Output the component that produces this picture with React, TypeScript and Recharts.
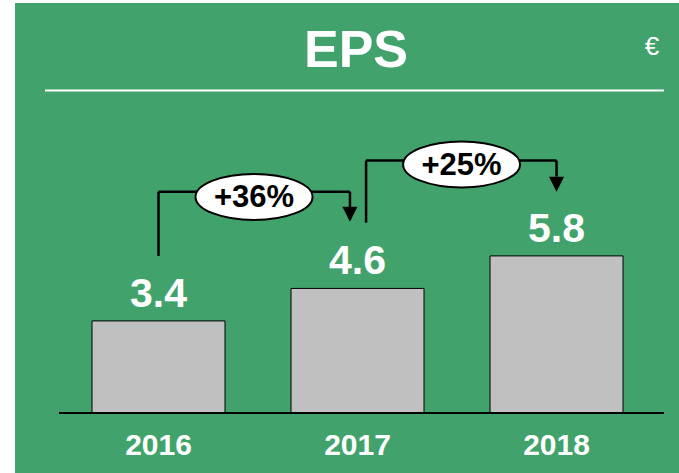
import React from "react";
import { BarChart, Bar, XAxis, YAxis, LabelList, ReferenceLine, ReferenceDot } from "recharts";

const years = ["2016", "2017", "2018"];
const eps = [3.4, 4.6, 5.8];
const growthLabels = ["+36%", "+25%"];
// growth arrow geometry in data units (x: category index, y: EPS value)
const arrowStartX = [0, 1.043];
const arrowStartY = [5.8, 7.03];
const arrowTopY = [8.17, 9.32];
const arrowEndX = [0.962, 2.0];
const arrowBaseY = [7.57, 8.73];
const arrowTipY = [7.06, 8.17];
const bubbleX = [0.48, 1.523];
const bubbleY = [7.98, 9.18];

const data = years.map((y, i) => ({ idx: i, year: y, eps: eps[i] }));

const FONT = "'Liberation Sans', Arial, sans-serif";
const GREEN = "#41a36b";

const Arrowhead = (props: any) => {
  const { cx, cy } = props;
  if (cx == null || cy == null) return null;
  return <polygon points={`${cx - 7.5},${cy - 15} ${cx + 7.5},${cy - 15} ${cx},${cy}`} fill="#000" />;
};

const makeBubble = (label: string) => (props: any) => {
  const { cx, cy } = props;
  if (cx == null || cy == null) return null;
  return (
    <g>
      <ellipse cx={cx} cy={cy} rx={58.5} ry={23} fill="#fff" stroke="#000" strokeWidth={2} />
      <text x={cx} y={cy + 10.5} textAnchor="middle" fontFamily={FONT} fontWeight="bold" fontSize={31} fill="#000">
        {label}
      </text>
    </g>
  );
};

const YearTick = (props: any) => {
  const { x, y, payload } = props;
  return (
    <text x={x} y={y + 42} textAnchor="middle" fontFamily={FONT} fontWeight="bold" fontSize={30} fill="#fff">
      {years[payload.value]}
    </text>
  );
};

export default function App() {
  return (
    <div style={{ position: "absolute", left: 0, top: 0, width: 679, height: 473 }}>
      <svg width={679} height={473} style={{ position: "absolute", left: 0, top: 0 }}>
        <rect x={15} y={3} width={664} height={470} fill={GREEN} />
        <text x={356} y={67} textAnchor="middle" fontFamily={FONT} fontWeight="bold" fontSize={52} fill="#fff">
          EPS
        </text>
        <text x={652} y={55} textAnchor="middle" fontFamily={FONT} fontSize={26} fill="#fff">
          €
        </text>
        <line x1={45} y1={90.5} x2={664} y2={90.5} stroke="#fff" strokeWidth={2} />
      </svg>
      <div style={{ position: "absolute", left: 0, top: 0 }}>
        <BarChart width={679} height={473} data={data} margin={{ top: 88, right: 15, left: 59, bottom: 20 }}>
          <XAxis
            dataKey="idx"
            type="number"
            domain={[-0.5, 2.54]}
            ticks={[0, 1, 2]}
            tick={<YearTick />}
            tickLine={false}
            tickSize={0}
            tickMargin={0}
            height={40}
            axisLine={{ stroke: "#000", strokeWidth: 2 }}
          />
          <YAxis hide domain={[0, 12]} />
          <Bar dataKey="eps" barSize={133} fill="#c0c0c0" stroke="#000" strokeWidth={1} isAnimationActive={false}>
            <LabelList
              dataKey="eps"
              position="top"
              offset={14}
              fill="#fff"
              fontFamily={FONT}
              fontWeight="bold"
              fontSize={41}
              formatter={(v: any) => Number(v).toFixed(1)}
            />
          </Bar>
          {growthLabels.map((lab, i) => (
            <ReferenceLine
              key={`v1-${i}`}
              segment={[{ x: arrowStartX[i], y: arrowStartY[i] }, { x: arrowStartX[i], y: arrowTopY[i] }]}
              stroke="#000"
              strokeWidth={2.5}
            />
          ))}
          {growthLabels.map((lab, i) => (
            <ReferenceLine
              key={`h-${i}`}
              segment={[{ x: arrowStartX[i], y: arrowTopY[i] }, { x: arrowEndX[i], y: arrowTopY[i] }]}
              stroke="#000"
              strokeWidth={2.5}
            />
          ))}
          {growthLabels.map((lab, i) => (
            <ReferenceLine
              key={`v2-${i}`}
              segment={[{ x: arrowEndX[i], y: arrowTopY[i] }, { x: arrowEndX[i], y: arrowBaseY[i] }]}
              stroke="#000"
              strokeWidth={2.5}
            />
          ))}
          {growthLabels.map((lab, i) => (
            <ReferenceDot key={`a-${i}`} x={arrowEndX[i]} y={arrowTipY[i]} r={1} shape={<Arrowhead />} />
          ))}
          {growthLabels.map((lab, i) => (
            <ReferenceDot key={`b-${i}`} x={bubbleX[i]} y={bubbleY[i]} r={1} shape={makeBubble(lab)} />
          ))}
        </BarChart>
      </div>
    </div>
  );
}
